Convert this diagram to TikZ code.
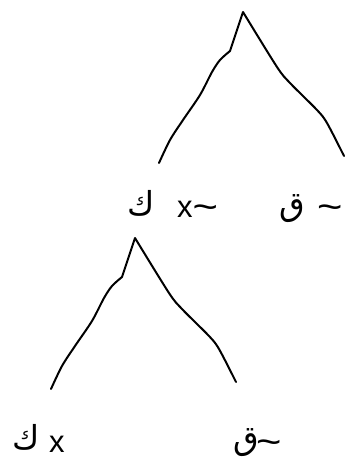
\documentclass[tikz,border=0pt]{standalone}
\usepackage{fontspec}
\usepackage{graphicx}
\setmainfont{Liberation Sans}
\newfontfamily\arabicfont[Script=Arabic]{DejaVu Sans}
\TeXXeTstate=1
\newcommand\lowtilde{\raisebox{-2pt}{\scalebox{1.4}[1.2]{\symbol{126}}}}
\tikzset{
  lbl/.style={inner sep=0pt, anchor=base west, font=\fontsize{31pt}{36pt}\selectfont},
  albl/.style={inner sep=0pt, anchor=base west, font=\fontsize{33pt}{38pt}\selectfont\arabicfont},
  branch/.style={line width=2pt, line join=round, line cap=round},
  mount/.pic={
    \draw[branch] plot[smooth, tension=0.5] coordinates {(159,163) (170,140) (183,120) (200,95) (212,72) (220,60) (230,51)}
      -- (243,12)
      -- plot[smooth, tension=0.5] coordinates {(243,12) (277,67) (290,83) (317,110) (327,123) (344,156)};
  }
}
\begin{document}
\begin{tikzpicture}[x=1pt,y=-1pt]
\useasboundingbox (0,0) rectangle (359,457);
\pic at (0,0) {mount};
\pic at (-108,226) {mount};
% top row
\node[albl] (k1) at (127,215) {\beginR ك\endR};
\node[lbl] (x1) at (177,217) {x\lowtilde};
\node[albl] (q1) at (279,215) {\beginR ق\endR};
\node[lbl] (t1) at (317,217) {\lowtilde};
% bottom row
\node[albl] (k2) at (12,449) {\beginR ك\endR};
\node[lbl] (x2) at (49,452) {x};
\node[albl] (q2) at (233,449) {\beginR ق\endR};
\node[lbl] (t2) at (256,452) {\lowtilde};
\end{tikzpicture}
\end{document}
